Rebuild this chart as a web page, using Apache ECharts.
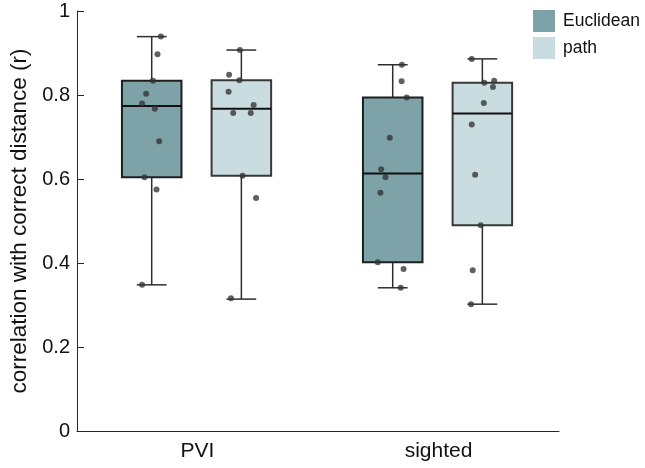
<!DOCTYPE html>
<html><head><meta charset="utf-8">
<script src="https://cdn.jsdelivr.net/npm/echarts@6/dist/echarts.min.js"></script>
<style>html,body{margin:0;padding:0;background:#fff}#c{width:645px;height:468px}</style>
</head><body><div id="c"></div>
<script>
// ---- data ----
const categories = ['PVI', 'sighted'];
const seriesNames = ['Euclidean', 'path'];
const yAxisTitle = 'correlation with correct distance (r)';

// box statistics per category: [min, Q1, median, Q3, max]
const euclideanBox = [[0.348, 0.604, 0.774, 0.834, 0.939], [0.341, 0.402, 0.613, 0.794, 0.872]];
const pathBox = [[0.314, 0.608, 0.767, 0.835, 0.907], [0.302, 0.490, 0.756, 0.829, 0.886]];

// individual participants
const euclideanPVI = [0.939, 0.897, 0.834, 0.803, 0.780, 0.767, 0.690, 0.604, 0.575, 0.348];
const euclideanPVIJitter = [0.038, 0.024, 0.005, -0.023, -0.040, 0.013, 0.031, -0.030, 0.020, -0.040];
const pathPVI = [0.907, 0.848, 0.835, 0.808, 0.776, 0.757, 0.757, 0.608, 0.555, 0.316];
const pathPVIJitter = [-0.006, -0.051, -0.008, -0.053, 0.051, -0.034, 0.039, 0.005, 0.061, -0.043];
const euclideanSighted = [0.872, 0.833, 0.794, 0.698, 0.623, 0.604, 0.567, 0.402, 0.386, 0.341];
const euclideanSightedJitter = [0.038, 0.037, 0.058, -0.012, -0.048, -0.030, -0.051, -0.062, 0.045, 0.033];
const pathSighted = [0.886, 0.834, 0.829, 0.819, 0.781, 0.730, 0.610, 0.490, 0.383, 0.302];
const pathSightedJitter = [-0.044, 0.049, 0.008, 0.044, 0.006, -0.044, -0.030, -0.007, -0.040, -0.047];

// ---- styling ----
const FONT = 'Liberation Sans, Arial, Helvetica, sans-serif';
const AXIS = '#262626';
const colors = { Euclidean: '#7da3a8', path: '#c9dce0' };
const edges = { Euclidean: '#1e1e1e', path: '#383838' };
const groupOffset = { Euclidean: -0.19, path: 0.182 };
const BOX_W = 0.247;

function boxData(name, stats) {
  return stats.map((s, i) => [i + 0.5 + groupOffset[name]].concat(s));
}
function pointData(name, groups) {
  const out = [];
  groups.forEach((g, i) => {
    g.vals.forEach((v, k) => out.push([i + 0.5 + groupOffset[name] + g.jit[k], v]));
  });
  return out;
}

function makeRender(name) {
  return function (params, api) {
    const x = api.value(0);
    const pMin = api.coord([x, api.value(1)]);
    const pQ1 = api.coord([x, api.value(2)]);
    const pMed = api.coord([x, api.value(3)]);
    const pQ3 = api.coord([x, api.value(4)]);
    const pMax = api.coord([x, api.value(5)]);
    const bw = api.size([BOX_W, 0])[0];
    const half = bw / 2, cap = bw / 4;
    const cx = pMed[0];
    const wStyle = { stroke: '#2e2e2e', lineWidth: 1.5 };
    return {
      type: 'group',
      children: [
        { type: 'line', shape: { x1: cx, y1: pMax[1], x2: cx, y2: pQ3[1] }, style: wStyle },
        { type: 'line', shape: { x1: cx, y1: pQ1[1], x2: cx, y2: pMin[1] }, style: wStyle },
        { type: 'line', shape: { x1: cx - cap, y1: pMax[1], x2: cx + cap, y2: pMax[1] }, style: wStyle },
        { type: 'line', shape: { x1: cx - cap, y1: pMin[1], x2: cx + cap, y2: pMin[1] }, style: wStyle },
        { type: 'rect', shape: { x: cx - half, y: pQ3[1], width: bw, height: pQ1[1] - pQ3[1] },
          style: { fill: colors[name], stroke: edges[name], lineWidth: 2 } },
        { type: 'line', shape: { x1: cx - half, y1: pMed[1], x2: cx + half, y2: pMed[1] },
          style: { stroke: '#111', lineWidth: 2 } }
      ]
    };
  };
}

const chart = echarts.init(document.getElementById('c'), null, { renderer: 'canvas' });
const option = {
  animation: false,
  backgroundColor: '#fff',
  textStyle: { fontFamily: FONT },
  grid: { left: 73, right: 86, top: 11, bottom: 37, containLabel: false },
  legend: {
    orient: 'vertical', left: 533, top: 10, padding: 0,
    itemWidth: 22, itemHeight: 22, itemGap: 5,
    icon: 'rect',
    textStyle: { fontSize: 17.5, color: '#111', fontFamily: FONT, padding: [0, 0, 0, 3] },
    data: seriesNames.map(n => ({ name: n, itemStyle: { color: colors[n], borderWidth: 0 } }))
  },
  xAxis: [
    {
      type: 'category', data: categories, boundaryGap: true,
      axisLine: { show: true, lineStyle: { color: AXIS, width: 1 } },
      axisTick: { show: false },
      axisLabel: { fontSize: 21, color: '#111', margin: 10, fontFamily: FONT },
      splitLine: { show: false }
    },
    { type: 'value', min: 0, max: 2, show: false }
  ],
  yAxis: {
    type: 'value', min: 0, max: 1, interval: 0.2,
    name: yAxisTitle, nameLocation: 'middle', nameGap: 46,
    nameTextStyle: { fontSize: 22.5, color: '#111', fontFamily: FONT },
    axisLine: { show: true, lineStyle: { color: AXIS, width: 1 } },
    axisTick: { show: true, inside: true, length: 7, lineStyle: { color: AXIS } },
    axisLabel: { fontSize: 20, color: '#111', margin: 7, fontFamily: FONT },
    splitLine: { show: false }
  },
  series: [
    {
      name: 'Euclidean', type: 'custom', xAxisIndex: 1, renderItem: makeRender('Euclidean'),
      itemStyle: { color: colors.Euclidean }, encode: { x: 0, y: [1, 2, 3, 4, 5] },
      data: boxData('Euclidean', euclideanBox), z: 2
    },
    {
      name: 'path', type: 'custom', xAxisIndex: 1, renderItem: makeRender('path'),
      itemStyle: { color: colors.path }, encode: { x: 0, y: [1, 2, 3, 4, 5] },
      data: boxData('path', pathBox), z: 2
    },
    {
      name: 'Euclidean points', type: 'scatter', xAxisIndex: 1, symbolSize: 6, z: 5,
      itemStyle: { color: '#333', opacity: 0.78 },
      data: pointData('Euclidean', [{ vals: euclideanPVI, jit: euclideanPVIJitter }, { vals: euclideanSighted, jit: euclideanSightedJitter }])
    },
    {
      name: 'path points', type: 'scatter', xAxisIndex: 1, symbolSize: 6, z: 5,
      itemStyle: { color: '#333', opacity: 0.78 },
      data: pointData('path', [{ vals: pathPVI, jit: pathPVIJitter }, { vals: pathSighted, jit: pathSightedJitter }])
    }
  ]
};
chart.setOption(option);
</script>
</body></html>
